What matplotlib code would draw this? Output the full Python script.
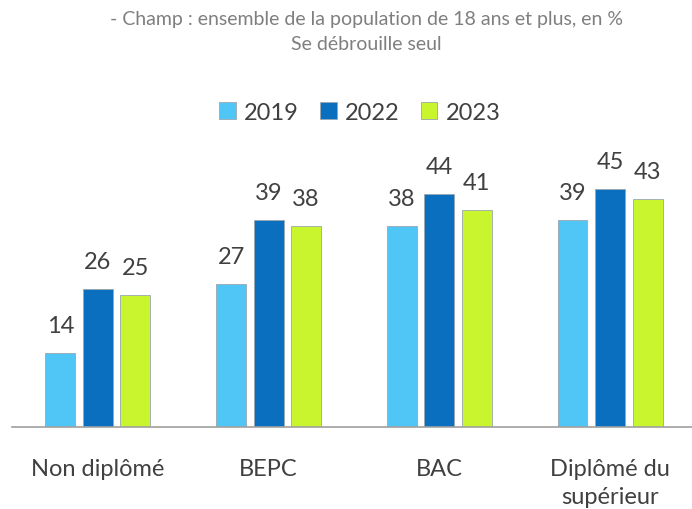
import numpy as np
import matplotlib
matplotlib.use("Agg")
import matplotlib.pyplot as plt

plt.rcParams['font.family'] = ['Lato', 'DejaVu Sans']

categories = ["Non diplômé", "BEPC", "BAC", "Diplômé du\nsupérieur"]
years = ["2019", "2022", "2023"]
v2019 = [14, 27, 38, 39]
v2022 = [26, 39, 44, 45]
v2023 = [25, 38, 41, 43]
colors = ["#4fc6f5", "#0a6fbf", "#c8f52e"]

fig = plt.figure(figsize=(6.92, 5.10), dpi=100)
ax = fig.add_axes([12 / 692, 1 - 428 / 510, 680 / 692, 265 / 510])

x = np.arange(len(categories))
width = 0.175
offset = 0.22
series = [v2019, v2022, v2023]
for i, (vals, col, yr) in enumerate(zip(series, colors, years)):
    bars = ax.bar(x + (i - 1) * offset, vals, width, color=col, edgecolor="#9aa7b0",
                  linewidth=0.6, label=yr)
    for b, v in zip(bars, vals):
        ax.text(b.get_x() + b.get_width() / 2, v + 3.2, str(v), ha="center", va="bottom",
                fontsize=17, color="#404040")

ax.set_xlim(-0.503, 3.48)
ax.set_ylim(0, 50)
for s in ["top", "right", "left"]:
    ax.spines[s].set_visible(False)
ax.spines["bottom"].set_color("#a0a0a0")
ax.spines["bottom"].set_linewidth(1.2)
ax.set_yticks([])
ax.set_xticks(x)
ax.set_xticklabels(categories, fontsize=17, color="#404040", linespacing=1.45)
ax.tick_params(axis="x", length=0, pad=22)

fig.text(0.53, 1 - 20 / 510, "- Champ : ensemble de la population de 18 ans et plus, en %",
         ha="center", va="center", fontsize=14, color="#7f7f7f")
fig.text(0.53, 1 - 45 / 510, "Se débrouille seul", ha="center", va="center",
         fontsize=14, color="#7f7f7f")

fig.legend(loc="center", bbox_to_anchor=(360 / 692, 1 - 113 / 510), ncol=3, frameon=False,
           fontsize=17, handlelength=0.7, handleheight=0.7, handletextpad=0.35,
           columnspacing=0.9, labelcolor="#404040")

fig.savefig("out.png", dpi=100)
